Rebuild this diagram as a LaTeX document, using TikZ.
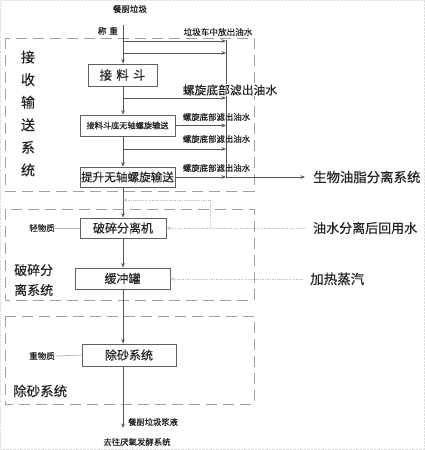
\documentclass[tikz,border=0pt]{standalone}
\usepackage{fontspec}
\setmainfont{Noto Sans CJK SC}[FakeBold=0.4]
\usetikzlibrary{arrows.meta}
\definecolor{txt}{HTML}{222222}
\definecolor{boxc}{HTML}{606060}
\definecolor{linec}{HTML}{555555}
\definecolor{dashc}{HTML}{A0A0A0}
\definecolor{fbc}{HTML}{C4C4C4}
\tikzset{
 fs/.style={font=\fontsize{#1}{#1}\selectfont},
 box/.style={draw=boxc, line width=0.8pt, inner sep=0pt, text=txt},
 grp/.style={draw=dashc, line width=0.9pt, dash pattern=on 11pt off 6pt},
 flow/.style={draw=linec, line width=0.7pt, -{Stealth[length=4.5pt,width=3.6pt]}},
 plain/.style={draw=linec, line width=0.7pt},
 fb/.style={draw=fbc, line width=0.7pt, densely dotted, -{Stealth[length=4.5pt,width=3.6pt]}},
 fbplain/.style={draw=fbc, line width=0.7pt, densely dotted},
 lbl/.style={inner sep=0pt, text=txt},
}
\begin{document}
\begin{tikzpicture}[x=1pt,y=-1pt]
\useasboundingbox (0,0) rectangle (425,450);
\draw[gray!25, densely dotted] (0.5,0.5) rectangle (424.5,449);
% groups
\draw[grp] (5,38) rectangle (254,191);
\draw[grp] (5,209) rectangle (254,300);
\draw[grp] (5,316) rectangle (254,404);
\node[lbl,fs=14,align=center,font=\fontsize{14}{22.6}\selectfont] (g1l) at (28,113.5) {接\\收\\输\\送\\系\\统};
\node[lbl,align=left,font=\fontsize{13}{20}\selectfont,anchor=west] (g2l) at (14,280) {破碎分\\离系统};
\node[lbl,fs=13.5,anchor=west] (g3l) at (13,391) {除砂系统};
% top labels
\node[lbl,fs=8.5] (src) at (130,9) {餐厨垃圾};
\node[lbl,fs=8.5,anchor=east] (wt) at (118,31) {称\,\,重};
\node[lbl,fs=8.6] (truck) at (218,32) {垃圾车中放出油水};
\coordinate (mtop) at (123,25);
\coordinate (mx) at (123,0);
% boxes
\node[box,fs=12.5,minimum width=69pt,minimum height=22pt] (b1) at (122.5,75) {接\,\,料\,\,斗};
\node[box,fs=8.2,minimum width=95pt,minimum height=21pt] (b2) at (127.5,125.5) {接料斗底无轴螺旋输送};
\node[box,fs=11.6,minimum width=95pt,minimum height=20pt] (b3) at (127.5,177) {提升无轴螺旋输送};
\node[box,fs=12,minimum width=86pt,minimum height=20pt] (b4) at (123,228) {破碎分离机};
\node[box,fs=12,minimum width=95pt,minimum height=21pt] (b5) at (122.5,278.5) {缓冲罐};
\node[box,fs=12,minimum width=94pt,minimum height=22pt] (b6) at (129,355) {除砂系统};
% collector
\coordinate (c1) at (226,40);
\coordinate (c2) at (226,177);
\draw[plain] (c1) -- (c2);
% main line
\draw[flow] (mtop) -- (b1.north -| mx);
\draw[flow] (mtop |- 0,41) -- (c1 |- 0,41);
\draw[flow] (mtop |- 0,53) -- (c1 |- 0,53);
\draw[flow] (b1.south -| mx) -- (b2.north -| mx);
\draw[flow] (mtop |- 0,98) -- (c1 |- 0,98);
\draw[flow] (b2.east) -- (c1 |- b2.east);
\draw[flow] (b2.south -| mx) -- (b3.north -| mx);
\draw[flow] (mtop |- 0,149) -- (c1 |- 0,149);
\draw[flow] (b3.east) -- (c2);
\draw[flow] (b3.south -| mx) -- (b4.north -| mx);
\draw[flow] (b4.south -| mx) -- (b5.north -| mx);
\draw[flow] (b5.south -| mx) -- (b6.north -| mx);
\coordinate (out) at (123,428);
\draw[flow] (b6.south -| mx) -- (out);
% oil-water labels
\node[lbl,fs=11.8,fill=white,inner ysep=0.5pt] (big) at (230,90) {螺旋底部滤出油水};
\node[lbl,fs=8.4] (o1) at (216.5,117) {螺旋底部滤出油水};
\node[lbl,fs=8.4] (o2) at (216.5,139) {螺旋底部滤出油水};
\node[lbl,fs=8.4] (o3) at (216.5,168) {螺旋底部滤出油水};
% bio oil
\node[lbl,fs=13.4,anchor=west] (bio) at (313,177) {生物油脂分离系统};
\draw[flow] (c2) -- (bio.west -| 305,0);
% light and heavy matter
\node[lbl,fs=8.5] (light) at (42,228) {轻物质};
\draw[plain,draw=gray!60] (b4.west) -- (light.east);
\node[lbl,fs=8.5] (heavy) at (42,356) {重物质};
\draw[plain,draw=gray!60] (b6.west) -- (heavy.east);
% feedback water
\node[lbl,fs=13,anchor=west] (ret) at (313,228) {油水分离后回用水};
\coordinate (rs) at (305,228);
\coordinate (rk) at (210,228);
\coordinate (ru) at (210,200);
\draw[fb] (rs) -- (b4.east);
\draw[fbplain] (rk) -- (ru);
\draw[fb] (ru) -- (mx |- ru);
% steam
\node[lbl,fs=13.5,anchor=west] (steam) at (310,279) {加热蒸汽};
\coordinate (ss) at (303,279);
\draw[fb] (ss) -- (b5.east |- ss);
% outlet labels
\node[lbl,fs=8.3,anchor=west] (slurry) at (128,422) {餐厨垃圾浆液};
\node[lbl,fs=8.4] (dest) at (137,442) {去往厌氧发酵系统};
\end{tikzpicture}
\end{document}
